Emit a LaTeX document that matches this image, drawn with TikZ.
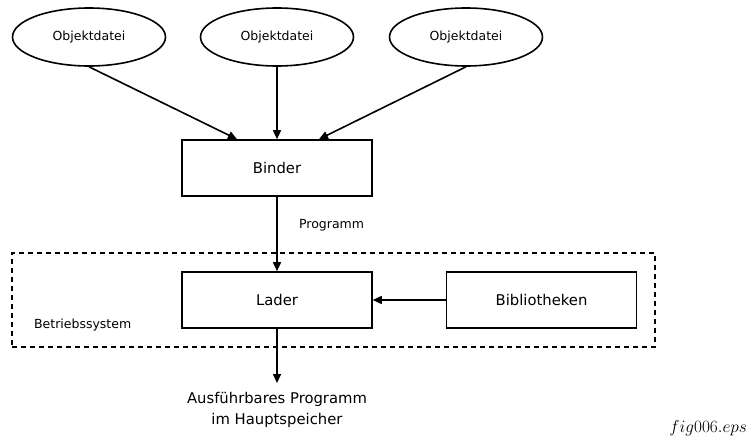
\documentclass[tikz,border=0pt]{standalone}
\usepackage{fontspec}
\setmainfont{DejaVu Sans}
\usetikzlibrary{arrows.meta,shapes.geometric}
\begin{document}
\begin{tikzpicture}[x=1pt,y=-1pt,
  line width=1.6pt,
  bigtext/.style={font=\fontsize{14.8}{18}\selectfont},
  smalltext/.style={font=\fontsize{12.5}{15}\selectfont},
  objfile/.style={ellipse,draw,smalltext,minimum width=153pt,minimum height=58pt,inner sep=0pt},
  unit/.style={rectangle,draw,bigtext,minimum width=190pt,minimum height=56pt,inner sep=0pt},
  flow/.style={-{Triangle[length=9pt,width=8pt]},line width=1.6pt}]
  \useasboundingbox (0,0) rectangle (755,441);

  % input object files
  \node[objfile] (o1) at (89,37) {Objektdatei};
  \node[objfile] (o2) at (277,37) {Objektdatei};
  \node[objfile] (o3) at (466,37) {Objektdatei};

  % linker
  \node[unit] (binder) at (277,168) {Binder};

  % operating system frame
  \node[draw,dashed,dash pattern=on 5pt off 4pt,minimum width=643pt,minimum height=94pt,inner sep=0pt] (os) at (333.5,300) {};
  \node[smalltext,anchor=west] (oslabel) at (30,325) {Betriebssystem};

  % loader and libraries
  \node[unit] (lader) at (277,300) {Lader};
  \node[unit] (lib) at (541.5,300) {Bibliotheken};

  % result
  \node[font=\fontsize{14.8}{21}\selectfont,align=center,anchor=north,inner sep=0pt] (result) at (277,391) {Ausführbares Programm\\im Hauptspeicher};
  \coordinate (resin) at (277,383);

  \node[anchor=east,font=\fontsize{16.5}{18}\selectfont] (fname) at (751,428) {$fig006.eps$};

  % connectors
  \coordinate (b1) at ([xshift=-40pt]binder.north);
  \coordinate (b3) at ([xshift=42pt]binder.north);
  \draw[flow] (o1.south) -- (b1);
  \draw[flow] (o2.south) -- (binder.north);
  \draw[flow] (o3.south) -- (b3);
  \draw[flow] (binder.south) -- node[smalltext,right=18pt,pos=0.38] (prog) {Programm} (lader.north);
  \draw[flow] (lib.west) -- (lader.east);
  \draw[flow] (lader.south) -- (resin);
\end{tikzpicture}
\end{document}
